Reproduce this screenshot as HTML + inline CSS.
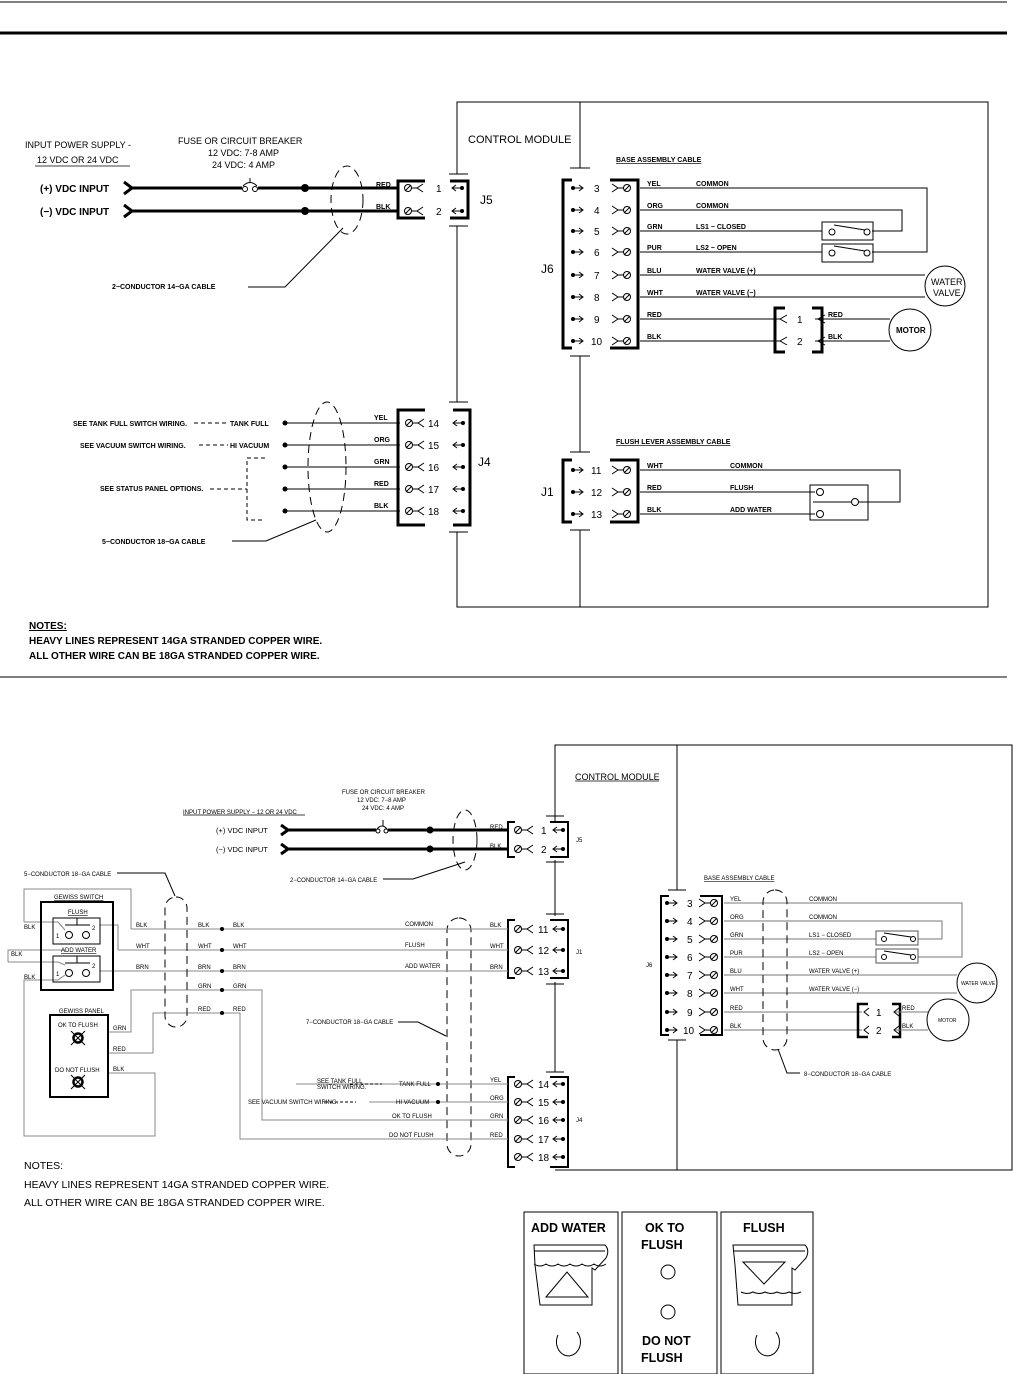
<!DOCTYPE html>
<html><head><meta charset="utf-8"><style>
html,body{margin:0;padding:0;background:#fff}
svg{display:block}
text{font-family:"Liberation Sans",sans-serif;fill:#000}
.s{font-size:7px;font-weight:bold}
.m{font-size:10px}
.b{font-size:11px}
.g{stroke:#888}
</style></head><body>
<svg width="1014" height="1374" viewBox="0 0 1014 1374" xmlns="http://www.w3.org/2000/svg">
<defs>
<g id="tl"><circle cx="0" cy="0" r="3.5" fill="#fff" stroke="#000" stroke-width="1"/><line x1="-3" y1="3" x2="3" y2="-3" stroke="#000"/><line x1="3.5" y1="0" x2="9" y2="0" stroke="#000"/><polyline points="15,-4 9,0 15,4" fill="none" stroke="#000"/></g>
<g id="tr"><circle cx="0" cy="0" r="3.5" fill="#fff" stroke="#000" stroke-width="1"/><line x1="-3" y1="3" x2="3" y2="-3" stroke="#000"/><line x1="-3.5" y1="0" x2="-9" y2="0" stroke="#000"/><polyline points="-15,-4 -9,0 -15,4" fill="none" stroke="#000"/></g>
<g id="cl"><polyline points="4,-3 0,0 4,3" fill="none" stroke="#000"/><line x1="0" y1="0" x2="9" y2="0" stroke="#000"/><circle cx="10" cy="0" r="2" fill="#000"/></g>
<g id="cr"><polyline points="-4,-3 0,0 -4,3" fill="none" stroke="#000"/><line x1="0" y1="0" x2="-9" y2="0" stroke="#000"/><circle cx="-10" cy="0" r="2" fill="#000"/></g>
</defs>
<g stroke="#000" fill="none">
<line x1="0" y1="2" x2="1007" y2="2" stroke-width="1"/>
<line x1="0" y1="33" x2="1007" y2="33" stroke-width="3"/>
<line x1="0" y1="677" x2="1007" y2="677" stroke-width="1"/>
<polyline points="457,174 457,102 988,102 988,607 457,607 457,532"/>
<line x1="457" y1="226" x2="457" y2="402"/>
<line x1="449" y1="174" x2="468" y2="174"/><line x1="449" y1="226" x2="468" y2="226"/>
<line x1="449" y1="402" x2="468" y2="402"/><line x1="449" y1="532" x2="468" y2="532"/>
<line x1="580" y1="102" x2="580" y2="168"/><line x1="580" y1="356" x2="580" y2="452"/><line x1="580" y1="530" x2="580" y2="607"/>
<line x1="570" y1="168" x2="590" y2="168"/><line x1="570" y1="356" x2="590" y2="356"/><line x1="570" y1="452" x2="590" y2="452"/><line x1="570" y1="530" x2="590" y2="530"/>
<polyline points="425,181 398,181 398,218 425,218" stroke-width="3"/>
<polyline points="450,181 468,181 468,218 450,218" stroke-width="3"/>
<polyline points="425,410 398,410 398,525 425,525" stroke-width="3"/>
<polyline points="453,410 470,410 470,525 453,525" stroke-width="3"/>
<polyline points="572,180 563,180 563,348 572,348" stroke-width="3"/>
<polyline points="610,180 638,180 638,348 610,348" stroke-width="3"/>
<polyline points="572,460 563,460 563,522 572,522" stroke-width="3"/>
<polyline points="610,460 638,460 638,522 610,522" stroke-width="3"/>
<polyline points="124,182 132,188 124,194" stroke-width="3"/>
<polyline points="124,205 132,211 124,217" stroke-width="3"/>
<line x1="130" y1="188" x2="242" y2="188" stroke-width="3"/>
<line x1="258" y1="188" x2="398" y2="188" stroke-width="3"/>
<circle cx="245" cy="189" r="2.5" stroke-width="1"/><circle cx="255" cy="189" r="2.5" stroke-width="1"/>
<path d="M243,186 Q250,179 257,186"/><line x1="250" y1="178" x2="250" y2="183"/>
<line x1="130" y1="211" x2="398" y2="211" stroke-width="3"/>
<ellipse cx="347" cy="200" rx="16" ry="34" stroke-dasharray="8,5"/>
<polyline points="248,287 285,287 343,228"/>
<line x1="285" y1="423" x2="400" y2="423"/><line x1="285" y1="445" x2="400" y2="445"/><line x1="285" y1="467" x2="400" y2="467"/><line x1="285" y1="489" x2="400" y2="489"/><line x1="285" y1="511" x2="400" y2="511"/>
<ellipse cx="327" cy="467" rx="19" ry="65" stroke-dasharray="8,5"/>
<polyline points="232,541 266,541 316,520"/>
<polyline points="265,458 247,458 247,520 265,520" stroke-dasharray="4,3"/>
<line x1="210" y1="489" x2="247" y2="489" stroke-dasharray="4,3"/>
<line x1="194" y1="423" x2="228" y2="423" stroke-dasharray="4,3"/>
<line x1="199" y1="445" x2="228" y2="445" stroke-dasharray="4,3"/>
<polyline points="640,188 927,188 927,252 872,252"/>
<polyline points="640,210 902,210 902,231 872,231"/>
<line x1="640" y1="231" x2="822" y2="231"/><line x1="640" y1="252" x2="822" y2="252"/>
<rect x="822" y="222" width="51" height="18"/><rect x="822" y="244" width="51" height="18"/>
<circle cx="832" cy="232" r="3"/><circle cx="867" cy="232" r="3"/><line x1="834" y1="225" x2="865" y2="230"/>
<circle cx="832" cy="253" r="3"/><circle cx="867" cy="253" r="3"/><line x1="834" y1="246" x2="865" y2="251"/>
<line x1="640" y1="275" x2="925" y2="275"/><line x1="640" y1="297" x2="925" y2="297"/>
<circle cx="945" cy="286" r="20"/>
<line x1="640" y1="319" x2="780" y2="319"/><line x1="640" y1="341" x2="780" y2="341"/>
<polyline points="785,308 775,308 775,352 785,352" stroke-width="3"/>
<polyline points="812,308 822,308 822,352 812,352" stroke-width="3"/>
<line x1="815" y1="319" x2="890" y2="319"/><line x1="815" y1="341" x2="890" y2="341"/>
<circle cx="910" cy="330" r="21"/>
<polyline points="640,470 900,470 900,502 858,502"/>
<line x1="640" y1="492" x2="815" y2="492"/><line x1="640" y1="514" x2="815" y2="514"/>
<rect x="810" y="485" width="58" height="35"/>
<line x1="813" y1="502" x2="852" y2="502"/>
<circle cx="820" cy="492" r="3.5" fill="#fff"/><circle cx="820" cy="514" r="3.5" fill="#fff"/><circle cx="855" cy="502" r="3.5" fill="#fff"/>
<line x1="35" y1="166" x2="130" y2="166" stroke-width="0.8"/>

<polyline points="555,823 555,745 1012,745 1012,1170 555,1170"/>
<line x1="555" y1="860" x2="555" y2="916"/><line x1="555" y1="982" x2="555" y2="1072"/>
<line x1="546" y1="816" x2="564" y2="816"/><line x1="546" y1="862" x2="564" y2="862"/>
<line x1="546" y1="914" x2="564" y2="914"/><line x1="546" y1="984" x2="564" y2="984"/>
<line x1="546" y1="1072" x2="564" y2="1072"/>
<line x1="677" y1="745" x2="677" y2="890"/><line x1="677" y1="1040" x2="677" y2="1170"/>
<line x1="668" y1="890" x2="686" y2="890"/><line x1="668" y1="1040" x2="686" y2="1040"/>
<polyline points="515,822 508,822 508,857 515,857" stroke-width="2"/>
<polyline points="550,822 568,822 568,857 550,857" stroke-width="2"/>
<polyline points="515,920 508,920 508,978 515,978" stroke-width="2"/>
<polyline points="550,920 568,920 568,978 550,978" stroke-width="2"/>
<polyline points="515,1077 508,1077 508,1167 515,1167" stroke-width="2"/>
<polyline points="550,1077 568,1077 568,1167 550,1167" stroke-width="2"/>
<polyline points="669,896 661,896 661,1035 669,1035" stroke-width="2"/>
<polyline points="700,896 722,896 722,1035 700,1035" stroke-width="2"/>
<polyline points="281,825 288,830 281,835" stroke-width="3"/>
<polyline points="281,844 288,849 281,854" stroke-width="3"/>
<line x1="286" y1="830" x2="376" y2="830" stroke-width="3"/>
<line x1="388" y1="830" x2="508" y2="830" stroke-width="3"/>
<circle cx="378" cy="831" r="2" stroke-width="1"/><circle cx="386" cy="831" r="2" stroke-width="1"/>
<path d="M377,829 Q382,823 387,829"/><line x1="383" y1="820" x2="383" y2="826"/>
<line x1="286" y1="849" x2="508" y2="849" stroke-width="3"/>
<ellipse cx="465" cy="840" rx="12" ry="30" stroke-dasharray="8,5"/>
<polyline points="383,879 413,879 465,862"/>
<rect x="447" y="918" width="24" height="238" rx="12" stroke-dasharray="8,5"/>
<polyline points="398,1022 418,1022 446,1036"/>
<polyline points="724,903 962,903 962,957 918,957" stroke="#777"/>
<polyline points="724,921 942,921 942,939 918,939" stroke="#777"/>
<line x1="724" y1="939" x2="876" y2="939" stroke="#777"/><line x1="724" y1="957" x2="876" y2="957" stroke="#777"/>
<rect x="876" y="931" width="42" height="14" stroke="#555"/><rect x="876" y="949" width="42" height="14" stroke="#555"/>
<circle cx="884" cy="939" r="2.5"/><circle cx="913" cy="939" r="2.5"/><line x1="884" y1="933" x2="911" y2="937"/>
<circle cx="884" cy="957" r="2.5"/><circle cx="913" cy="957" r="2.5"/><line x1="884" y1="951" x2="911" y2="955"/>
<line x1="724" y1="975" x2="957" y2="975" stroke="#777"/><line x1="724" y1="993" x2="957" y2="993" stroke="#777"/>
<circle cx="977" cy="983" r="20"/>
<line x1="724" y1="1012" x2="862" y2="1012" stroke="#777"/><line x1="724" y1="1030" x2="862" y2="1030" stroke="#777"/>
<polyline points="868,1004 858,1004 858,1037 868,1037" stroke-width="2.5"/>
<polyline points="892,1004 900,1004 900,1037 892,1037" stroke-width="2.5"/>
<line x1="895" y1="1012" x2="928" y2="1012" stroke="#777"/><line x1="895" y1="1030" x2="928" y2="1030" stroke="#777"/>
<circle cx="948" cy="1020" r="21"/>
<rect x="763" y="890" width="24" height="160" rx="12" stroke-dasharray="8,5"/>
<polyline points="800,1073 787,1073 778,1049"/>
<g stroke="#888">
<line x1="131" y1="929" x2="508" y2="929"/>
<polyline points="24,922 24,889 131,889 131,929"/>
<polyline points="24,922 58,922 65,930"/>
<polyline points="118,950 508,950"/><polyline points="100,925 118,925 118,950"/>
<line x1="100" y1="971" x2="508" y2="971"/>
<polyline points="8,962 8,950 58,950 65,950"/>
<polyline points="8,962 58,962 65,965"/>
<polyline points="108,1032 131,1032 131,990 262,990 262,1120 508,1120"/>
<polyline points="108,1053 153,1053 153,1013 240,1013 240,1139 508,1139"/>
<polyline points="108,1073 155,1073 155,1136 24,1136 24,980 58,980 65,975"/>
<line x1="296" y1="1084" x2="508" y2="1084"/>
<line x1="369" y1="1102" x2="508" y2="1102"/>
</g>
<line x1="350" y1="1084" x2="382" y2="1084" stroke-dasharray="3,2"/>
<line x1="325" y1="1102" x2="356" y2="1102" stroke-dasharray="3,2"/>
<rect x="165" y="897" width="22" height="130" rx="11" stroke-dasharray="8,5"/>
<polyline points="117,873 165,873 175,896"/>
<rect x="41" y="902" width="72" height="88" stroke-width="2"/>
<rect x="53" y="918" width="47" height="26"/><rect x="53" y="956" width="47" height="26"/>
<line x1="65" y1="925" x2="90" y2="925"/><line x1="77" y1="918" x2="77" y2="925"/>
<line x1="65" y1="963" x2="90" y2="963"/><line x1="77" y1="956" x2="77" y2="963"/>
<circle cx="69" cy="935" r="3.5"/><circle cx="86" cy="935" r="3.5"/>
<circle cx="69" cy="973" r="3.5"/><circle cx="86" cy="973" r="3.5"/>
<rect x="50" y="1015" width="58" height="82" stroke-width="2"/>
<circle cx="78" cy="1038" r="4.5" stroke-width="2.5"/><circle cx="78" cy="1082" r="4.5" stroke-width="2.5"/>
<path d="M71,1031 L85,1045 M85,1031 L71,1045 M71,1075 L85,1089 M85,1075 L71,1089" stroke-width="1"/>
<rect x="524" y="1212" width="94" height="162"/><rect x="622" y="1212" width="95" height="162"/><rect x="721" y="1212" width="92" height="162"/>
<path d="M534,1245 L605,1245 Q610,1250 606,1258 L595,1270 L592,1268 L592,1305 L540,1305 L535,1265 Z"/>
<line x1="534" y1="1251" x2="605" y2="1251"/>
<path d="M534,1264 q6,4 12,0 q6,4 12,0 q6,4 12,0 q6,4 12,0 q6,4 12,0 q6,4 12,0"/>
<polygon points="546,1297 567,1272 588,1297"/>
<path d="M733,1245 L805,1245 Q810,1250 806,1258 L795,1270 L792,1268 L792,1305 L738,1305 L735,1265 Z"/>
<line x1="733" y1="1251" x2="805" y2="1251"/>
<path d="M741,1292 q6,3 12,0 q6,3 12,0 q6,3 12,0 q6,3 12,0 q6,3 12,0"/>
<polygon points="743,1262 785,1262 764,1284"/>
<circle cx="668" cy="1272" r="7"/><circle cx="668" cy="1312" r="7"/>
<path d="M577,1332 A12,14 0 1,1 558,1335"/>
<path d="M776,1332 A12,14 0 1,1 757,1335"/>
<line x1="575" y1="781" x2="659" y2="781" stroke-width="0.8"/>
<line x1="183" y1="815" x2="305" y2="815" stroke-width="0.8"/>
</g>
<g fill="#000">
<circle cx="305" cy="188" r="4"/><circle cx="305" cy="211" r="4"/>
<circle cx="285" cy="423" r="2.5"/><circle cx="285" cy="445" r="2.5"/><circle cx="285" cy="467" r="2.5"/><circle cx="285" cy="489" r="2.5"/><circle cx="285" cy="511" r="2.5"/>
<circle cx="430" cy="830" r="3.5"/><circle cx="430" cy="849" r="3.5"/>
<circle cx="222" cy="929" r="2"/><circle cx="222" cy="950" r="2"/><circle cx="222" cy="971" r="2"/><circle cx="222" cy="990" r="2"/><circle cx="222" cy="1013" r="2"/>
<circle cx="438" cy="1084" r="2"/><circle cx="438" cy="1102" r="2"/>
</g>
<use href="#tl" x="408" y="188"/><use href="#tl" x="408" y="211"/>
<use href="#cl" x="452" y="188"/><use href="#cl" x="452" y="211"/>
<use href="#tl" x="409" y="423"/><use href="#tl" x="409" y="445"/><use href="#tl" x="409" y="467"/><use href="#tl" x="409" y="489"/><use href="#tl" x="409" y="511"/>
<use href="#cl" x="453" y="423"/><use href="#cl" x="453" y="445"/><use href="#cl" x="453" y="467"/><use href="#cl" x="453" y="489"/><use href="#cl" x="453" y="511"/>
<use href="#tr" x="627" y="188"/><use href="#tr" x="627" y="210"/><use href="#tr" x="627" y="231"/><use href="#tr" x="627" y="252"/><use href="#tr" x="627" y="275"/><use href="#tr" x="627" y="297"/><use href="#tr" x="627" y="319"/><use href="#tr" x="627" y="341"/>
<use href="#cr" x="583" y="188"/><use href="#cr" x="583" y="210"/><use href="#cr" x="583" y="231"/><use href="#cr" x="583" y="252"/><use href="#cr" x="583" y="275"/><use href="#cr" x="583" y="297"/><use href="#cr" x="583" y="319"/><use href="#cr" x="583" y="341"/>
<use href="#tr" x="627" y="470"/><use href="#tr" x="627" y="492"/><use href="#tr" x="627" y="514"/>
<use href="#cr" x="583" y="470"/><use href="#cr" x="583" y="492"/><use href="#cr" x="583" y="514"/>
<use href="#tl" x="518" y="830"/><use href="#tl" x="518" y="849"/><use href="#cl" x="553" y="830"/><use href="#cl" x="553" y="849"/>
<use href="#tl" x="518" y="929"/><use href="#tl" x="518" y="950"/><use href="#tl" x="518" y="971"/><use href="#cl" x="553" y="929"/><use href="#cl" x="553" y="950"/><use href="#cl" x="553" y="971"/>
<use href="#tl" x="518" y="1084"/><use href="#tl" x="518" y="1102"/><use href="#tl" x="518" y="1120"/><use href="#tl" x="518" y="1139"/><use href="#tl" x="518" y="1157"/>
<use href="#cl" x="553" y="1084"/><use href="#cl" x="553" y="1102"/><use href="#cl" x="553" y="1120"/><use href="#cl" x="553" y="1139"/><use href="#cl" x="553" y="1157"/>
<use href="#tr" x="714" y="903"/><use href="#tr" x="714" y="921"/><use href="#tr" x="714" y="939"/><use href="#tr" x="714" y="957"/><use href="#tr" x="714" y="975"/><use href="#tr" x="714" y="993"/><use href="#tr" x="714" y="1012"/><use href="#tr" x="714" y="1030"/>
<use href="#cr" x="677" y="903"/><use href="#cr" x="677" y="921"/><use href="#cr" x="677" y="939"/><use href="#cr" x="677" y="957"/><use href="#cr" x="677" y="975"/><use href="#cr" x="677" y="993"/><use href="#cr" x="677" y="1012"/><use href="#cr" x="677" y="1030"/>
<g fill="none" stroke="#000">
<polyline points="787,315 780,319 787,323"/><polyline points="787,337 780,341 787,345"/>
<polyline points="825,315 818,319 825,323"/><polyline points="825,337 818,341 825,345"/>
<polyline points="869,1008 864,1012 869,1016"/><polyline points="869,1026 864,1030 869,1034"/>
<polyline points="899,1008 894,1012 899,1016"/><polyline points="899,1026 894,1030 899,1034"/>
</g>

<text class="m" x="25" y="148" style="font-size:9px">INPUT POWER SUPPLY -</text>
<text class="m" x="37" y="163" style="font-size:9px">12 VDC OR 24 VDC</text>
<text class="m" x="178" y="144" style="font-size:9px">FUSE OR CIRCUIT BREAKER</text>
<text class="m" x="208" y="156" style="font-size:9px">12 VDC: 7-8 AMP</text>
<text class="m" x="212" y="168" style="font-size:9px">24 VDC: 4 AMP</text>
<text x="40" y="192" style="font-size:10px;font-weight:bold">(+)  VDC  INPUT</text>
<text x="40" y="215" style="font-size:10px;font-weight:bold">(−)  VDC  INPUT</text>
<text class="s" x="376" y="187">RED</text><text class="s" x="376" y="209">BLK</text>
<text class="m" x="436" y="192">1</text><text class="m" x="436" y="215">2</text>
<text x="480" y="204" style="font-size:12px">J5</text>
<text class="s" x="112" y="289">2−CONDUCTOR  14−GA  CABLE</text>
<text x="468" y="143" style="font-size:11px">CONTROL  MODULE</text>
<text class="s" x="73" y="426">SEE TANK FULL  SWITCH  WIRING.</text>
<text class="s" x="80" y="448">SEE  VACUUM  SWITCH  WIRING.</text>
<text class="s" x="230" y="426">TANK  FULL</text>
<text class="s" x="230" y="448">HI  VACUUM</text>
<text class="s" x="100" y="491">SEE  STATUS  PANEL  OPTIONS.</text>
<text class="s" x="102" y="544">5−CONDUCTOR  18−GA  CABLE</text>
<text class="s" x="374" y="420">YEL</text><text class="s" x="374" y="442">ORG</text><text class="s" x="374" y="464">GRN</text><text class="s" x="374" y="486">RED</text><text class="s" x="374" y="508">BLK</text>
<text class="m" x="428" y="427">14</text><text class="m" x="428" y="449">15</text><text class="m" x="428" y="471">16</text><text class="m" x="428" y="493">17</text><text class="m" x="428" y="515">18</text>
<text x="478" y="466" style="font-size:12px">J4</text>
<text class="s" x="616" y="162" style="text-decoration:underline">BASE  ASSEMBLY  CABLE</text>
<text x="541" y="273" style="font-size:12px">J6</text>
<text class="m" x="594" y="192">3</text><text class="m" x="594" y="214">4</text><text class="m" x="594" y="235">5</text><text class="m" x="594" y="256">6</text><text class="m" x="594" y="279">7</text><text class="m" x="594" y="301">8</text><text class="m" x="594" y="323">9</text><text class="m" x="591" y="345">10</text>
<text class="s" x="647" y="186">YEL</text><text class="s" x="647" y="208">ORG</text><text class="s" x="647" y="229">GRN</text><text class="s" x="647" y="250">PUR</text><text class="s" x="647" y="273">BLU</text><text class="s" x="647" y="295">WHT</text><text class="s" x="647" y="317">RED</text><text class="s" x="647" y="339">BLK</text>
<text class="s" x="696" y="186">COMMON</text><text class="s" x="696" y="208">COMMON</text><text class="s" x="696" y="229">LS1  −  CLOSED</text><text class="s" x="696" y="250">LS2  −  OPEN</text><text class="s" x="696" y="273">WATER  VALVE  (+)</text><text class="s" x="696" y="295">WATER  VALVE  (−)</text>
<text class="m" x="931" y="285" style="font-size:9px">WATER</text><text class="m" x="933" y="296" style="font-size:9px">VALVE</text>
<text class="m" x="797" y="323">1</text><text class="m" x="797" y="345">2</text>
<text class="s" x="828" y="317">RED</text><text class="s" x="828" y="339">BLK</text>
<text class="s" x="896" y="333" style="font-size:8px">MOTOR</text>
<text class="s" x="616" y="444" style="text-decoration:underline">FLUSH  LEVER  ASSEMBLY  CABLE</text>
<text x="541" y="496" style="font-size:12px">J1</text>
<text class="m" x="591" y="474">11</text><text class="m" x="591" y="496">12</text><text class="m" x="591" y="518">13</text>
<text class="s" x="647" y="468">WHT</text><text class="s" x="647" y="490">RED</text><text class="s" x="647" y="512">BLK</text>
<text class="s" x="730" y="468">COMMON</text><text class="s" x="730" y="490">FLUSH</text><text class="s" x="730" y="512">ADD  WATER</text>
<text x="29" y="629" style="font-size:10px;font-weight:bold;text-decoration:underline">NOTES:</text>
<text x="29" y="644" style="font-size:10px;font-weight:bold">HEAVY  LINES  REPRESENT  14GA  STRANDED  COPPER  WIRE.</text>
<text x="29" y="659" style="font-size:10px;font-weight:bold">ALL  OTHER  WIRE  CAN  BE  18GA  STRANDED  COPPER  WIRE.</text>

<text x="575" y="780" style="font-size:9px">CONTROL  MODULE</text>
<text style="font-size:6px" x="342" y="794">FUSE OR CIRCUIT BREAKER</text>
<text style="font-size:6px" x="357" y="802">12 VDC: 7−8 AMP</text>
<text style="font-size:6px" x="362" y="810">24 VDC: 4 AMP</text>
<text style="font-size:6px" x="183" y="814">INPUT POWER SUPPLY  −  12 OR 24 VDC</text>
<text style="font-size:7.5px" x="216" y="833">(+)  VDC  INPUT</text>
<text style="font-size:7.5px" x="216" y="852">(−)  VDC  INPUT</text>
<text style="font-size:6px" x="490" y="829">RED</text><text style="font-size:6px" x="490" y="848">BLK</text>
<text class="m" x="541" y="834">1</text><text class="m" x="541" y="853">2</text>
<text style="font-size:6px" x="576" y="842">J5</text>
<text style="font-size:6px" x="290" y="882">2−CONDUCTOR  14−GA  CABLE</text>
<text style="font-size:6px" x="24" y="876">5−CONDUCTOR  18−GA  CABLE</text>
<text style="font-size:6px;text-decoration:underline" x="54" y="899">GEWISS  SWITCH</text>
<text style="font-size:6px;text-decoration:underline" x="68" y="914">FLUSH</text>
<text style="font-size:6px;text-decoration:underline" x="61" y="952">ADD  WATER</text>
<text style="font-size:6px" x="56" y="938">1</text><text style="font-size:6px" x="92" y="930">2</text>
<text style="font-size:6px" x="56" y="976">1</text><text style="font-size:6px" x="92" y="968">2</text>
<text style="font-size:6px" x="24" y="929">BLK</text><text style="font-size:6px" x="11" y="956">BLK</text><text style="font-size:6px" x="24" y="979">BLK</text>
<text style="font-size:6px;text-decoration:underline" x="59" y="1013">GEWISS  PANEL</text>
<text style="font-size:6px" x="58" y="1027">OK  TO  FLUSH</text>
<text style="font-size:6px" x="55" y="1072">DO  NOT  FLUSH</text>
<text style="font-size:6px" x="113" y="1030">GRN</text><text style="font-size:6px" x="113" y="1051">RED</text><text style="font-size:6px" x="113" y="1071">BLK</text>
<text style="font-size:6px" x="136" y="927">BLK</text><text style="font-size:6px" x="136" y="948">WHT</text><text style="font-size:6px" x="136" y="969">BRN</text>
<text style="font-size:6px" x="198" y="927">BLK</text><text style="font-size:6px" x="198" y="948">WHT</text><text style="font-size:6px" x="198" y="969">BRN</text><text style="font-size:6px" x="198" y="988">GRN</text><text style="font-size:6px" x="198" y="1011">RED</text>
<text style="font-size:6px" x="233" y="927">BLK</text><text style="font-size:6px" x="233" y="948">WHT</text><text style="font-size:6px" x="233" y="969">BRN</text><text style="font-size:6px" x="233" y="988">GRN</text><text style="font-size:6px" x="233" y="1011">RED</text>
<text style="font-size:6px" x="405" y="926">COMMON</text><text style="font-size:6px" x="405" y="947">FLUSH</text><text style="font-size:6px" x="405" y="968">ADD  WATER</text>
<text style="font-size:6px" x="490" y="927">BLK</text><text style="font-size:6px" x="490" y="948">WHT</text><text style="font-size:6px" x="490" y="969">BRN</text>
<text class="m" x="538" y="933">11</text><text class="m" x="538" y="954">12</text><text class="m" x="538" y="975">13</text>
<text style="font-size:6px" x="576" y="954">J1</text>
<text style="font-size:6px" x="306" y="1024">7−CONDUCTOR  18−GA  CABLE</text>
<text style="font-size:6px" x="317" y="1083">SEE TANK FULL</text><text style="font-size:6px" x="317" y="1089">SWITCH  WIRING.</text>
<text style="font-size:6px" x="399" y="1086">TANK  FULL</text>
<text style="font-size:6px" x="248" y="1104">SEE  VACUUM  SWITCH  WIRING.</text>
<text style="font-size:6px" x="396" y="1104">HI  VACUUM</text>
<text style="font-size:6px" x="392" y="1118">OK  TO  FLUSH</text>
<text style="font-size:6px" x="389" y="1137">DO  NOT  FLUSH</text>
<text style="font-size:6px" x="490" y="1082">YEL</text><text style="font-size:6px" x="490" y="1100">ORG</text><text style="font-size:6px" x="490" y="1118">GRN</text><text style="font-size:6px" x="490" y="1137">RED</text>
<text class="m" x="538" y="1088">14</text><text class="m" x="538" y="1106">15</text><text class="m" x="538" y="1124">16</text><text class="m" x="538" y="1143">17</text><text class="m" x="538" y="1161">18</text>
<text style="font-size:6px" x="576" y="1122">J4</text>
<text style="font-size:6px;text-decoration:underline" x="704" y="880">BASE  ASSEMBLY  CABLE</text>
<text style="font-size:6px" x="646" y="967">J6</text>
<text class="m" x="687" y="907">3</text><text class="m" x="687" y="925">4</text><text class="m" x="687" y="943">5</text><text class="m" x="687" y="961">6</text><text class="m" x="687" y="979">7</text><text class="m" x="687" y="997">8</text><text class="m" x="687" y="1016">9</text><text class="m" x="683" y="1034">10</text>
<text style="font-size:6px" x="730" y="901">YEL</text><text style="font-size:6px" x="730" y="919">ORG</text><text style="font-size:6px" x="730" y="937">GRN</text><text style="font-size:6px" x="730" y="955">PUR</text><text style="font-size:6px" x="730" y="973">BLU</text><text style="font-size:6px" x="730" y="991">WHT</text><text style="font-size:6px" x="730" y="1010">RED</text><text style="font-size:6px" x="730" y="1028">BLK</text>
<text style="font-size:6px" x="809" y="901">COMMON</text><text style="font-size:6px" x="809" y="919">COMMON</text><text style="font-size:6px" x="809" y="937">LS1  −  CLOSED</text><text style="font-size:6px" x="809" y="955">LS2  −  OPEN</text><text style="font-size:6px" x="809" y="973">WATER  VALVE  (+)</text><text style="font-size:6px" x="809" y="991">WATER  VALVE  (−)</text>
<text style="font-size:5px" x="961" y="985">WATER VALVE</text>
<text class="m" x="876" y="1016">1</text><text class="m" x="876" y="1034">2</text>
<text style="font-size:6px" x="902" y="1010">RED</text><text style="font-size:6px" x="902" y="1028">BLK</text>
<text style="font-size:5px" x="938" y="1022">MOTOR</text>
<text style="font-size:6px" x="804" y="1076">8−CONDUCTOR  18−GA  CABLE</text>
<text x="24" y="1169" style="font-size:10.5px">NOTES:</text>
<text x="24" y="1188" style="font-size:10.5px">HEAVY  LINES  REPRESENT  14GA  STRANDED  COPPER  WIRE.</text>
<text x="24" y="1206" style="font-size:10.5px">ALL  OTHER  WIRE  CAN  BE  18GA  STRANDED  COPPER  WIRE.</text>
<text x="531" y="1232" style="font-size:12.5px;font-weight:bold">ADD WATER</text>
<text x="645" y="1232" style="font-size:12.5px;font-weight:bold">OK TO</text>
<text x="641" y="1249" style="font-size:12.5px;font-weight:bold">FLUSH</text>
<text x="642" y="1345" style="font-size:12.5px;font-weight:bold">DO NOT</text>
<text x="641" y="1362" style="font-size:12.5px;font-weight:bold">FLUSH</text>
<text x="743" y="1232" style="font-size:12.5px;font-weight:bold">FLUSH</text>
</svg>
</body></html>
